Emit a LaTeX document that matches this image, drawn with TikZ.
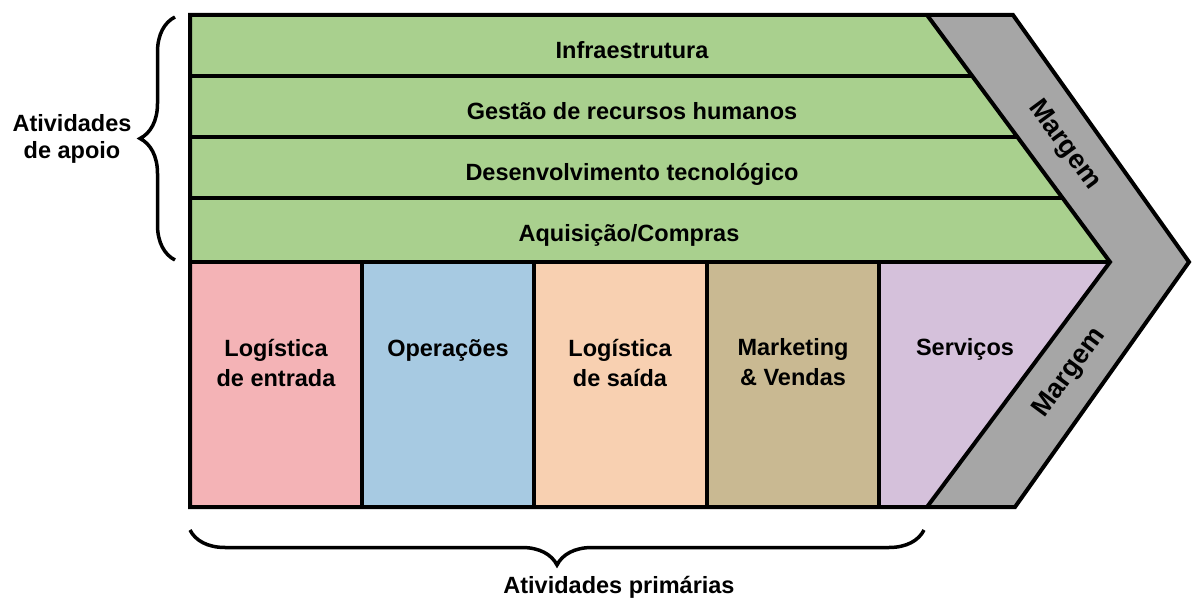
\documentclass[tikz,border=0pt]{standalone}
\usepackage{fontspec}
\setmainfont{Liberation Sans}
\usetikzlibrary{decorations.pathreplacing}
\definecolor{vgreen}{HTML}{A9D08E}
\definecolor{vpink}{HTML}{F4B3B6}
\definecolor{vblue}{HTML}{A7CAE2}
\definecolor{vpeach}{HTML}{F8D0B1}
\definecolor{vtan}{HTML}{C9B992}
\definecolor{vpurple}{HTML}{D5C1DB}
\definecolor{vgray}{HTML}{A6A6A6}
\begin{document}
\begin{tikzpicture}[x=1pt,y=-1pt,
  lbl/.style={font=\fontsize{23.5}{30}\selectfont\bfseries, align=center, inner sep=0pt, anchor=base},
  marg/.style={font=\fontsize{27}{30}\selectfont\bfseries, inner sep=0pt, anchor=center},
  edge/.style={line width=4pt, line join=miter},
  bracestyle/.style={line width=3.5pt, decorate, decoration={brace, amplitude=35pt}}]
\useasboundingbox (0,0) rectangle (1192,601);
% key points
\coordinate (TL) at (190,15);
\coordinate (BL) at (190,507);
\coordinate (IT) at (927,15);
\coordinate (IP) at (1110,262);
\coordinate (IB) at (927,507);
\coordinate (OT) at (1013,15);
\coordinate (OP) at (1189,262);
\coordinate (OB) at (1015,507);
% fills
\fill[vgray] (OT) -- (OP) -- (OB) -- (IB) -- (IP) -- (IT) -- cycle;
\fill[vgreen] (TL) -- (IT) -- (IP) -- (190,262) -- cycle;
\fill[vpink] (190,262) rectangle (362,507);
\fill[vblue] (362,262) rectangle (534,507);
\fill[vpeach] (534,262) rectangle (707,507);
\fill[vtan] (707,262) rectangle (879,507);
\fill[vpurple] (879,262) -- (IP) -- (IB) -- (879,507) -- cycle;
% lines
\draw[edge] (190,76) -- (972.2,76);
\draw[edge] (190,137) -- (1017.4,137);
\draw[edge] (190,198) -- (1062.6,198);
\draw[edge] (190,262) -- (IP);
\draw[edge] (362,262) -- (362,507);
\draw[edge] (534,262) -- (534,507);
\draw[edge] (707,262) -- (707,507);
\draw[edge] (879,262) -- (879,507);
\draw[edge] (IT) -- (IP) -- (IB);
\draw[edge] (TL) -- (OT) -- (OP) -- (OB) -- (BL) -- cycle;
% labels
\node[lbl] (infra) at (632,59) {Infraestrutura};
\node[lbl] (rh) at (632,120) {Gestão de recursos humanos};
\node[lbl] (dev) at (632,181) {Desenvolvimento tecnológico};
\node[lbl] (aq) at (629,242) {Aquisição/Compras};
\node[lbl] (le) at (276,387) {Logística\\de entrada};
\node[lbl] (op) at (448,357) {Operações};
\node[lbl] (ls) at (620,387) {Logística\\de saída};
\node[lbl] (mv) at (793,386) {Marketing\\\& Vendas};
\node[lbl] (sv) at (965,356) {Serviços};
\node[marg, rotate=-53.5] (m1) at (1064,145) {Margem};
\node[marg, rotate=53.5] (m2) at (1070,373) {Margem};
\node[lbl] (apoio) at (72,159) {Atividades\\[-3pt]de apoio};
\node[lbl] (prim) at (619,593) {Atividades primárias};
% braces
\draw[bracestyle] (175,260) -- (175,17);
\draw[bracestyle] (924,530) -- (190,530);
\end{tikzpicture}
\end{document}
